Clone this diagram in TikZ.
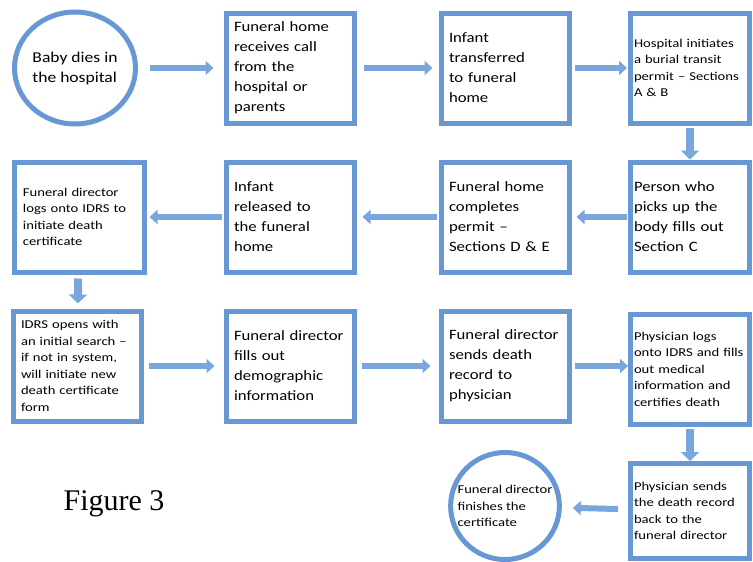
\documentclass[tikz,border=0pt]{standalone}
\usepackage{fontspec}
\setmainfont{Carlito}
\newfontfamily\boxfont[FakeStretch=1.17]{Carlito}
\newfontfamily\notefont[FakeStretch=1.22]{Carlito}
\newfontfamily\figfont{Liberation Serif}
\usetikzlibrary{arrows.meta,shapes.geometric}
\definecolor{boxblue}{RGB}{104,152,212}
\definecolor{arrowblue}{RGB}{122,166,222}
\tikzset{
  stepbox/.style={draw=boxblue, line width=5pt, fill=white, rectangle, align=left,
    minimum width=128pt, minimum height=110pt, text width=112pt, inner xsep=8pt,
    font=\boxfont\fontsize{14.3}{20}\selectfont},
  smalltext/.style={font=\notefont\fontsize{12}{16.5}\selectfont},
  narrowbox/.style={minimum width=119pt, text width=112pt, inner xsep=3.5pt},
  endcircle/.style={draw=boxblue, line width=5pt, fill=white, ellipse, align=left, inner sep=0pt},
  flow/.style={draw=arrowblue, line width=6pt, -{Triangle[width=14pt,length=8pt]},
    shorten <=4pt, shorten >=5pt},
  downflow/.style={flow, line width=8pt, -{Triangle[width=18pt,length=9pt]}}
}
\begin{document}
\begin{tikzpicture}[x=1pt, y=-1pt, node distance = 215pt]
  \useasboundingbox (0,0) rectangle (753,562);

  \node[endcircle, minimum width=121pt, minimum height=112pt,
        font=\boxfont\fontsize{15}{20}\selectfont] (birth) at (75,68) {Baby dies in\\the hospital};
  \node[stepbox, right of=birth] (call) {Funeral home\\receives call\\from the\\hospital or\\parents};
  \node[stepbox, right of=call] (transfer) {Infant\\transferred\\to funeral\\home};
  \node[stepbox, smalltext, narrowbox, right of=transfer, xshift=-30pt] (permit)
        {Hospital initiates\\a burial transit\\permit – Sections\\A \& B};

  \node[stepbox, narrowbox, node distance=149pt, below of=permit] (pickup)
        {Person who\\picks up the\\body fills out\\Section C};
  \node[stepbox, node distance=149pt, below of=transfer] (complete)
        {Funeral home\\completes\\permit –\\Sections D \& E};
  \node[stepbox, node distance=149pt, below of=call] (release)
        {Infant\\released to\\the funeral\\home};
  \node[stepbox, smalltext, minimum width=130pt, text width=112pt, inner xsep=9pt,
        node distance=149pt, below of=birth, xshift=4pt] (logon)
        {Funeral director\\logs onto IDRS to\\initiate death\\certificate};

  \node[stepbox, smalltext, node distance=149pt, below of=logon, xshift=-2pt] (search)
        {IDRS opens with\\an initial search –\\if not in system,\\will initiate new\\death certificate\\form};
  \node[stepbox, node distance=149pt, below of=release] (demog)
        {Funeral director\\fills out\\demographic\\information};
  \node[stepbox, node distance=149pt, below of=complete] (send)
        {Funeral director\\sends death\\record to\\physician};
  \node[stepbox, smalltext, narrowbox, node distance=149pt, below of=pickup, yshift=-3pt] (certify)
        {Physician logs\\onto IDRS and fills\\out medical\\information and\\certifies death};

  \node[stepbox, smalltext, narrowbox, minimum height=95pt, node distance=142pt,
        below of=certify] (back)
        {Physician sends\\the death record\\back to the\\funeral director};
  \node[endcircle, smalltext, minimum width=104pt, minimum height=107pt, inner xsep=-9pt,
        node distance=149pt, below of=send, yshift=9pt] (finish)
        {Funeral director\\finishes the\\certificate};

  \node[font=\figfont\fontsize{30}{36}\selectfont] (caption) at (114,504) {Figure 3};

  \draw[flow, shorten <=12pt, shorten >=10pt] (birth) -- (call);
  \draw[flow, shorten <=7pt, shorten >=6pt] (call) -- (transfer);
  \draw[flow, shorten <=3pt, shorten >=1pt] (transfer) -- (permit);
  \draw[downflow, shorten <=2pt, shorten >=0pt] (permit) -- (pickup);
  \draw[flow, shorten <=1pt, shorten >=5pt] (pickup) -- (complete);
  \draw[flow, shorten <=2pt, shorten >=6pt] (complete) -- (release);
  \draw[flow, shorten <=2pt, shorten >=3pt] (release) -- (logon);
  \draw[downflow] (logon) -- (search);
  \draw[flow, shorten <=5pt, shorten >=9pt] (search) -- (demog);
  \draw[flow, shorten <=5pt, shorten >=8pt] (demog) -- (send);
  \draw[flow, shorten <=3pt, shorten >=0pt] (send) -- (send -| certify.west);
  \draw[downflow, shorten <=2pt, shorten >=0pt] (certify) -- (back);
  \draw[flow, shorten <=10pt, shorten >=11pt] (back) -- (finish);
\end{tikzpicture}
\end{document}
